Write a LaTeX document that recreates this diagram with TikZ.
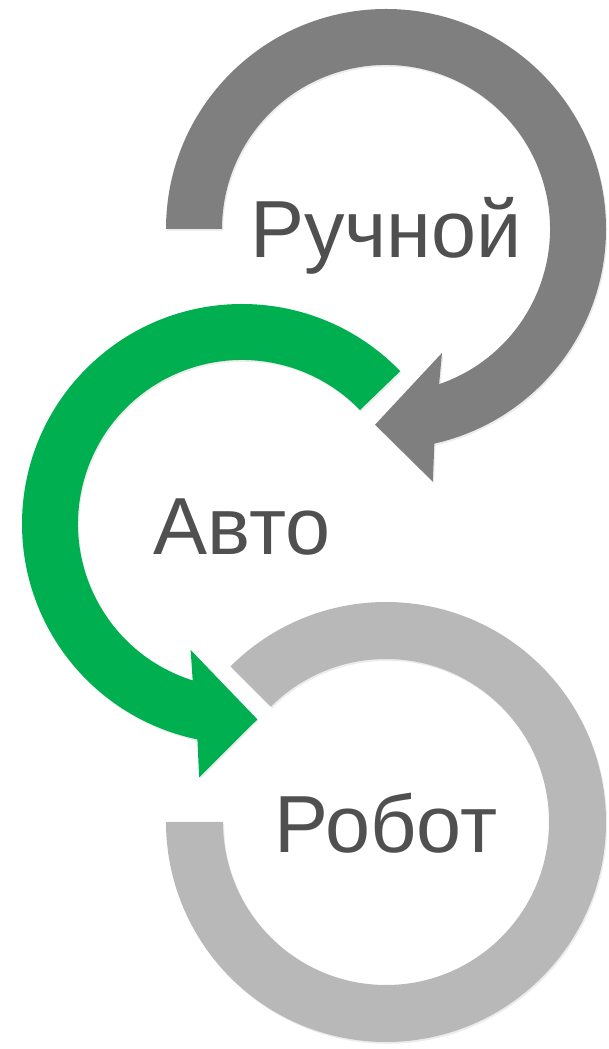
\documentclass[tikz,border=0pt]{standalone}
\usepackage{fontspec}
\setmainfont{Liberation Sans}
\usetikzlibrary{shadows}
\definecolor{darkring}{RGB}{127,127,127}
\definecolor{greenring}{RGB}{0,176,80}
\definecolor{lightring}{RGB}{184,184,184}
\definecolor{wordgray}{RGB}{80,80,80}
\tikzset{
  ring/.style={drop shadow={shadow xshift=1.2pt,shadow yshift=-1.8pt,opacity=0.15}},
  word/.style={anchor=base,inner sep=0pt,text=wordgray,font=\fontsize{81}{81}\selectfont}
}
\begin{document}
\begin{tikzpicture}[x=1pt,y=1pt]
            \useasboundingbox (0,0) rectangle (608,1049);
            \coordinate (A) at (386,820);
            \coordinate (B) at (242,525);
            \coordinate (C) at (386,227);

            \fill[lightring,ring,shift={(C)}] (135:220) arc[start angle=135,end angle=-180,radius=220]
                -- (180:163) arc[start angle=-180,end angle=135,radius=163] -- cycle;
            \fill[darkring,ring,shift={(A)}] (180:220) arc[start angle=180,end angle=-77.3,radius=220]
                -- (-79.5:257) -- (-93.2:196) -- (-65.7:136)
                -- (-71.1:164) arc[start angle=-71.1,end angle=180,radius=164] -- cycle;
            \fill[greenring,ring,shift={(B)}] (44:220) arc[start angle=44,end angle=258.3,radius=220]
                -- (260.4:257) -- (274.5:196) -- (247.8:136)
                -- (252.5:164) arc[start angle=252.5,end angle=44,radius=164] -- cycle;

            \node[word] (D) at ([yshift=-29]A) {Ручной};
            \node[word] (E) at ([yshift=-31]B) {Авто};
            \node[word] (F) at ([yshift=-31]C) {Робот};
        \end{tikzpicture}
\end{document}
